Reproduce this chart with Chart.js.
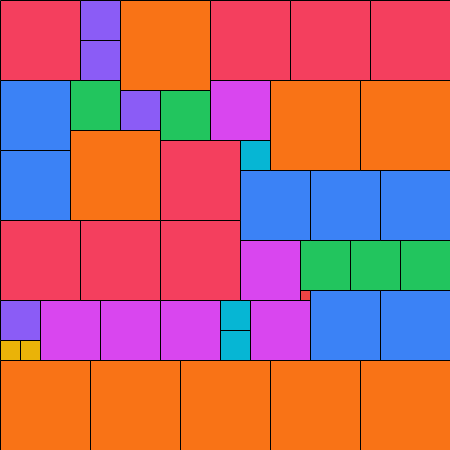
<!DOCTYPE html>
<html>
<head>
<meta charset="utf-8">
<script src="https://cdn.jsdelivr.net/npm/chart.js@4/dist/chart.umd.min.js"></script>
<style>
  html, body { margin: 0; padding: 0; background: #ffffff; }
  #wrap { width: 450px; height: 450px; position: relative; }
</style>
</head>
<body>
<div id="wrap"><canvas id="chart1"></canvas></div>
<script>
// Partridge tiling: side 45, n squares of side n (n = 1..9)
const GRID = 45;

const sizes = [9, 8, 7, 6, 5, 4, 3, 2, 1];
const colors = ["#F97316", "#F43F5E", "#3B82F6", "#D946EF", "#22C55E",
                "#8B5CF6", "#06B6D4", "#EAB308", "#EF4444"];

// top-left corners of each square, in grid units [x, y]
const corners9 = [[12, 0], [27, 8], [36, 8], [7, 13], [0, 36], [9, 36], [18, 36], [27, 36], [36, 36]];
const corners8 = [[0, 0], [21, 0], [29, 0], [37, 0], [16, 14], [0, 22], [8, 22], [16, 22]];
const corners7 = [[0, 8], [0, 15], [24, 17], [31, 17], [38, 17], [31, 29], [38, 29]];
const corners6 = [[21, 8], [24, 24], [4, 30], [10, 30], [16, 30], [25, 30]];
const corners5 = [[7, 8], [16, 9], [30, 24], [35, 24], [40, 24]];
const corners4 = [[8, 0], [8, 4], [12, 9], [0, 30]];
const corners3 = [[24, 14], [22, 30], [22, 33]];
const corners2 = [[0, 34], [2, 34]];
const corners1 = [[30, 29]];

const cornerSets = [corners9, corners8, corners7, corners6, corners5,
                    corners4, corners3, corners2, corners1];

function sideRadius(side) {
  return (ctx) => {
    const xs = ctx.chart.scales.x;
    const px = Math.abs(xs.getPixelForValue(side) - xs.getPixelForValue(0));
    return px / Math.SQRT2;
  };
}

const datasets = sizes.map((side, i) => ({
  label: side + "×" + side,
  data: cornerSets[i].map(([x, y]) => ({ x: x + side / 2, y: y + side / 2 })),
  pointStyle: "rect",
  backgroundColor: colors[i],
  borderColor: "#000000",
  borderWidth: 1,
  pointRadius: sideRadius(side),
  pointHoverRadius: sideRadius(side),
  pointHoverBorderWidth: 1,
  clip: false
}));

new Chart(document.getElementById("chart1").getContext("2d"), {
  type: "scatter",
  data: { datasets },
  options: {
    responsive: true,
    maintainAspectRatio: false,
    animation: false,
    layout: { padding: 0 },
    scales: {
      x: { type: "linear", min: -0.05, max: GRID - 0.05, display: false },
      y: { type: "linear", min: -0.05, max: GRID - 0.05, reverse: true, display: false }
    },
    plugins: {
      legend: { display: false },
      tooltip: { enabled: false }
    }
  }
});
</script>
</body>
</html>
